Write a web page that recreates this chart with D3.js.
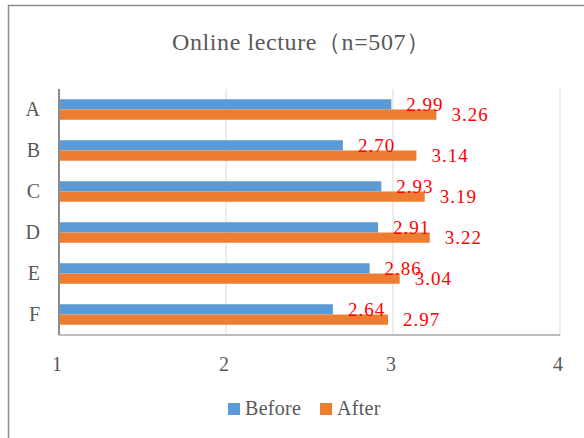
<!DOCTYPE html>
<html>
<head>
<meta charset="utf-8">
<script src="https://cdn.jsdelivr.net/npm/d3@7"></script>
<style>
  body { margin: 0; background: #fff; }
  svg { display: block; }
</style>
</head>
<body>
<div id="chart"></div>
<script>
const categories = ['A', 'B', 'C', 'D', 'E', 'F'];
const before = [2.99, 2.70, 2.93, 2.91, 2.86, 2.64];
const after = [3.26, 3.14, 3.19, 3.22, 3.04, 2.97];
const seriesNames = ['Before', 'After'];
const xTicks = [1, 2, 3, 4];

const W = 584, H = 438;
const serif = '"Liberation Serif", "DejaVu Serif", "Times New Roman", serif';
const textGray = '#595959';
const colors = { Before: '#5B9BD5', After: '#ED7D31' };

const svg = d3.select('#chart').append('svg')
  .attr('width', W)
  .attr('height', H);

svg.append('rect').attr('width', W).attr('height', H).attr('fill', '#fff');

// outer frame (left + top only visible)
svg.append('path')
  .attr('d', `M8.5,${H} V5.5 H${W}`)
  .attr('fill', 'none')
  .attr('stroke', '#8c8c8c')
  .attr('stroke-width', 1.5);

const plot = { left: 59, right: 560, top: 89, bottom: 335 };

const x = d3.scaleLinear().domain([1, 4]).range([plot.left, plot.right]);
const y = d3.scaleBand().domain(categories).range([plot.top, plot.bottom]).paddingInner(0.5).paddingOuter(0.25);
const sub = d3.scaleBand().domain(seriesNames).range([0, y.bandwidth()]);

// gridlines
svg.append('g')
  .selectAll('line')
  .data(xTicks.slice(1))
  .join('line')
  .attr('x1', d => x(d)).attr('x2', d => x(d))
  .attr('y1', plot.top).attr('y2', plot.bottom)
  .attr('stroke', '#d9d9d9')
  .attr('stroke-width', 1);

// bottom border
svg.append('line')
  .attr('x1', plot.left).attr('x2', plot.right)
  .attr('y1', plot.bottom).attr('y2', plot.bottom)
  .attr('stroke', '#a6a6a6').attr('stroke-width', 1.5);

const rows = categories.map((c, i) => ({ cat: c, Before: before[i], After: after[i] }));

const groups = svg.append('g')
  .selectAll('g')
  .data(rows)
  .join('g')
  .attr('transform', d => `translate(0,${y(d.cat)})`);

groups.selectAll('rect')
  .data(d => seriesNames.map(s => ({ s, v: d[s] })))
  .join('rect')
  .attr('x', x(1))
  .attr('y', d => sub(d.s))
  .attr('width', d => x(d.v) - x(1))
  .attr('height', sub.bandwidth())
  .attr('fill', d => colors[d.s]);

// value labels
groups.selectAll('text')
  .data(d => seriesNames.map(s => ({ s, v: d[s] })))
  .join('text')
  .attr('x', d => x(d.v) + 15)
  .attr('y', d => sub(d.s) + sub.bandwidth() / 2)
  .attr('dy', '0.33em')
  .attr('fill', '#ff0000')
  .style('font-family', serif)
  .style('font-size', '19px')
  .style('letter-spacing', '1px')
  .text(d => d.v.toFixed(2));

// left axis line
svg.append('line')
  .attr('x1', plot.left).attr('x2', plot.left)
  .attr('y1', plot.top).attr('y2', plot.bottom)
  .attr('stroke', '#8c8c8c').attr('stroke-width', 2);

// category labels
svg.append('g')
  .selectAll('text')
  .data(categories)
  .join('text')
  .attr('x', 40)
  .attr('y', d => y(d) + y.bandwidth() / 2)
  .attr('dy', '0.33em')
  .attr('text-anchor', 'end')
  .attr('fill', textGray)
  .style('font-family', serif)
  .style('font-size', '20px')
  .text(d => d);

// x tick labels
svg.append('g')
  .selectAll('text')
  .data(xTicks)
  .join('text')
  .attr('x', d => x(d) - 2)
  .attr('y', 371)
  .attr('text-anchor', 'middle')
  .attr('fill', textGray)
  .style('font-family', serif)
  .style('font-size', '20px')
  .text(d => d);

// title
svg.append('text')
  .attr('x', 172)
  .attr('y', 49.5)
  .attr('fill', textGray)
  .style('font-family', serif)
  .style('font-size', '24px')
  .style('letter-spacing', '0.6px')
  .text('Online lecture（n=507）');

// legend
const legend = svg.append('g');
const legendX = [228, 320];
seriesNames.forEach((s, i) => {
  legend.append('rect')
    .attr('x', legendX[i]).attr('y', 403)
    .attr('width', 12).attr('height', 12)
    .attr('fill', colors[s]);
  legend.append('text')
    .attr('x', legendX[i] + 17)
    .attr('y', 414.5)
    .attr('fill', textGray)
    .style('font-family', serif)
    .style('font-size', '20px')
    .style('letter-spacing', '0.3px')
    .text(s);
});
</script>
</body>
</html>
